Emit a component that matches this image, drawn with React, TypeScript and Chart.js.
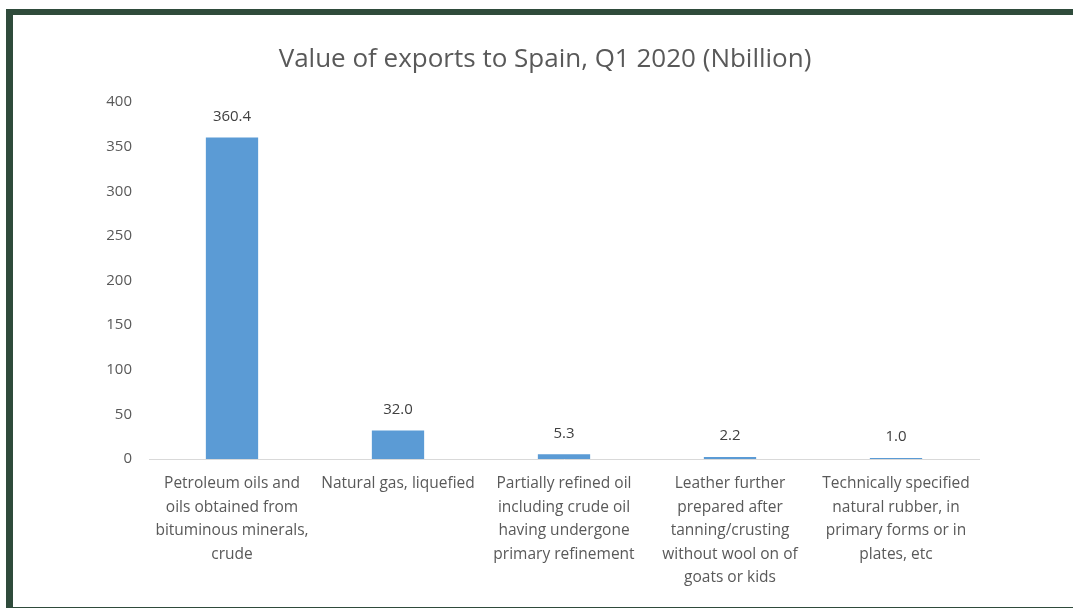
import React, { useEffect, useRef } from "react";
import { Chart, registerables } from "chart.js";

Chart.register(...registerables);

const categories: string[][] = [
  ["Petroleum oils and", "oils obtained from", "bituminous minerals,", "crude"],
  ["Natural gas, liquefied"],
  ["Partially refined oil", "including crude oil", "having undergone", "primary refinement"],
  ["Leather further", "prepared after", "tanning/crusting", "without wool on of", "goats or kids"],
  ["Technically specified", "natural rubber, in", "primary forms or in", "plates, etc"],
];
const exportValues: number[] = [360.4, 32.0, 5.3, 2.2, 1.0];
const yTicks: number[] = [0, 50, 100, 150, 200, 250, 300, 350, 400];
const chartTitle = "Value of exports to Spain, Q1 2020 (Nbillion)";

const FONT = "'Open Sans', 'Noto Sans', sans-serif";

const valueLabels = {
  id: "valueLabels",
  afterDatasetsDraw(chart: any) {
    const ctx = chart.ctx;
    const meta = chart.getDatasetMeta(0);
    ctx.save();
    ctx.font = `15px ${FONT}`;
    ctx.fillStyle = "#404040";
    ctx.textAlign = "center";
    ctx.textBaseline = "middle";
    meta.data.forEach((bar: any, i: number) => {
      const v = chart.data.datasets[0].data[i] as number;
      ctx.fillText(v.toFixed(1), bar.x, bar.y - 21);
    });
    ctx.restore();
  },
};

// let the y tick labels extend into the left padding (avoid clipping)
const unclipY = {
  id: "unclipY",
  afterLayout(chart: any) {
    const y = chart.scales.y;
    if (y) y.left = 0;
  },
};

export default function App() {
  const ref = useRef<HTMLCanvasElement>(null);
  useEffect(() => {
    if (!ref.current) return;
    const chart = new Chart(ref.current, {
      type: "bar",
      data: {
        labels: categories,
        datasets: [
          {
            data: exportValues,
            backgroundColor: "#5B9BD5",
            categoryPercentage: 1,
            barPercentage: 0.315,
          },
        ],
      },
      options: {
        animation: false,
        responsive: false,
        maintainAspectRatio: false,
        layout: { padding: { left: 98, right: 94, top: 0, bottom: 0 } },
        plugins: {
          legend: { display: false },
          tooltip: { enabled: false },
          title: {
            display: true,
            text: chartTitle,
            color: "#595959",
            font: { family: FONT, size: 26, weight: "normal" },
            padding: { top: 29, bottom: 27 },
          },
        },
        scales: {
          x: {
            grid: { display: false, drawTicks: false },
            border: { display: true, color: "#d9d9d9", width: 1 },
            ticks: {
              color: "#595959",
              font: { family: FONT, size: 15.5, lineHeight: 1.52 },
              maxRotation: 0,
              autoSkip: false,
              padding: 13,
            },
            afterFit: (scale: any) => {
              scale.height = 148;
            },
          },
          y: {
            min: 0,
            max: 400,
            afterBuildTicks: (scale: any) => {
              scale.ticks = yTicks.map((v) => ({ value: v }));
            },
            grid: { display: false, drawTicks: false },
            border: { display: false },
            ticks: {
              color: "#595959",
              font: { family: FONT, size: 15 },
              padding: 17,
            },
            afterFit: (scale: any) => {
              scale.width = 38;
            },
          },
        },
      },
      plugins: [valueLabels, unclipY],
    });
    return () => chart.destroy();
  }, []);

  return (
    <div
      style={{
        position: "absolute",
        left: 6,
        top: 9,
        width: 1100,
        height: 592,
        borderLeft: "7px solid #2F4B3B",
        borderTop: "6px solid #2F4B3B",
        borderBottom: "6px solid #2F4B3B",
        background: "#ffffff",
      }}
    >
      <canvas ref={ref} width={1060} height={592} style={{ display: "block" }} />
    </div>
  );
}
